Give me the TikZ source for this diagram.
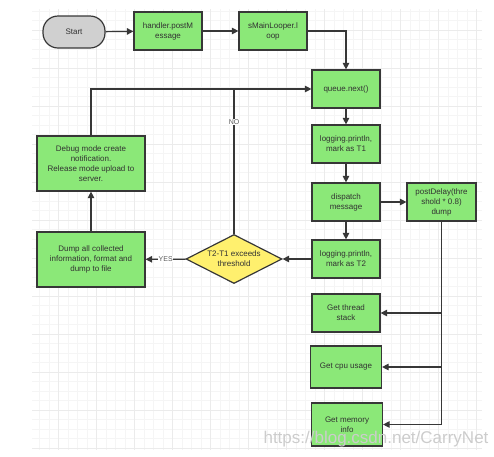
\documentclass[tikz,border=0pt]{standalone}
\usepackage{fontspec}
\setmainfont{Liberation Sans}
\usetikzlibrary{shapes.geometric,arrows.meta}
\definecolor{boxgreen}{RGB}{139,232,120}
\definecolor{boxyellow}{RGB}{255,240,110}
\definecolor{startgray}{RGB}{208,208,208}
\definecolor{linegray}{RGB}{55,55,55}
\definecolor{textgray}{RGB}{50,50,50}
\begin{document}
\begin{tikzpicture}[x = 1pt, y = -1pt, font = \fontsize{8}{10}\selectfont, text = textgray,
		main/.style = {draw = linegray, fill = boxgreen, line width = 1.2pt, minimum width = 68pt, minimum height = 38pt, inner sep = 1pt, align = center},
		startbox/.style = {main, fill = startgray, rounded corners = 15pt, minimum width = 62pt, minimum height = 32pt},
		decision/.style = {main, diamond, fill = boxyellow, aspect = 2, minimum width = 96pt, minimum height = 49pt, inner sep = -3pt},
		link/.style = {draw = linegray, line width = 1.2pt, -{Triangle[length = 6.5pt, width = 6.5pt]}},
		plain/.style = {draw = linegray, line width = 1.2pt},
		tag/.style = {fill = white, inner sep = 0.5pt, font = \fontsize{7}{7}\selectfont, text = black!65},
		minor/.style = {draw = black!4, line width = 0.5pt},
		major/.style = {draw = black!8, line width = 0.6pt}]
	\useasboundingbox (0,0) rectangle (494,456);
	\begin{scope}
		\clip (32,9) rectangle (482,450);
		\foreach \i in {-3,...,44} \draw[minor] ({58.3 + 9.5*\i},9) -- ++(0,441);
		\foreach \j in {-38,...,8} \draw[minor] (32,{372 + 9.5*\j}) -- ++(450,0);
		\foreach \i in {0,...,12} \draw[major] ({20.3 + 38*\i},9) -- ++(0,441);
		\foreach \j in {0,...,11} \draw[major] (32,{30 + 38*\j}) -- ++(450,0);
	\end{scope}
	\node[startbox] (start) at (74,32) {Start};
	\node[main] (post) at (168,31) {handler.postM\\essage};
	\node[main, right of = post, node distance = 105pt] (looper) {sMainLooper.l\\oop};
	\node[main] (queue) at (346,89) {queue.next()};
	\node[main, below of = queue, node distance = 55pt] (t1) {logging.println,\\mark as T1};
	\node[main, below of = t1, node distance = 58pt] (dispatch) {dispatch\\message};
	\node[main, below of = dispatch, node distance = 57pt] (t2) {logging.println,\\mark as T2};
	\node[main, right of = dispatch, node distance = 95.5pt, minimum width = 69pt] (delay) {postDelay(thre\\shold * 0.8)\\dump};
	\node[main, below of = t2, node distance = 54pt] (stack) {Get thread\\stack};
	\node[main, below of = stack, node distance = 54pt, minimum width = 71pt, minimum height = 42pt] (cpu) {Get cpu usage};
	\node[main, below of = cpu, node distance = 57.5pt, minimum width = 71pt, minimum height = 43pt, xshift = 1pt] (memory) {Get memory\\info};
	\node[decision, left of = t2, node distance = 112pt] (check) {T2-T1 exceeds\\threshold};
	\node[main, minimum width = 108pt, minimum height = 55pt] (dump) at (91,259.5) {Dump all collected\\information, format and\\dump to file};
	\node[main, above of = dump, node distance = 96pt, minimum width = 108pt, minimum height = 55pt] (debug) {Debug mode create\\notification.\\Release mode upload to\\server.};
	\draw[link] (start) -- (post);
	\draw[link] (post) -- (looper);
	\draw[link] (looper) -| (queue);
	\draw[link] (queue) -- (t1);
	\draw[link] (t1) -- (dispatch);
	\draw[link] (dispatch) -- (t2);
	\draw[link] (dispatch) -- (delay);
	\draw[link] (t2) -- (check);
	\draw[link] (check) -- node[tag, pos = 0.5] {YES} (dump);
	\draw[link] (dump) -- (debug);
	\draw[link] (debug) |- (queue);
	\draw[plain] (check) -- node[tag, pos = 0.77] {NO} (check |- queue);
	\draw[link] (delay) |- (stack);
	\draw[link] (delay) |- (cpu);
	\draw[link] (delay) |- (memory);
	\node[text = black!20, font = \fontsize{17}{17}\selectfont] (mark) at (376,439) {https://blog.csdn.net/CarryNet};
\end{tikzpicture}
\end{document}
